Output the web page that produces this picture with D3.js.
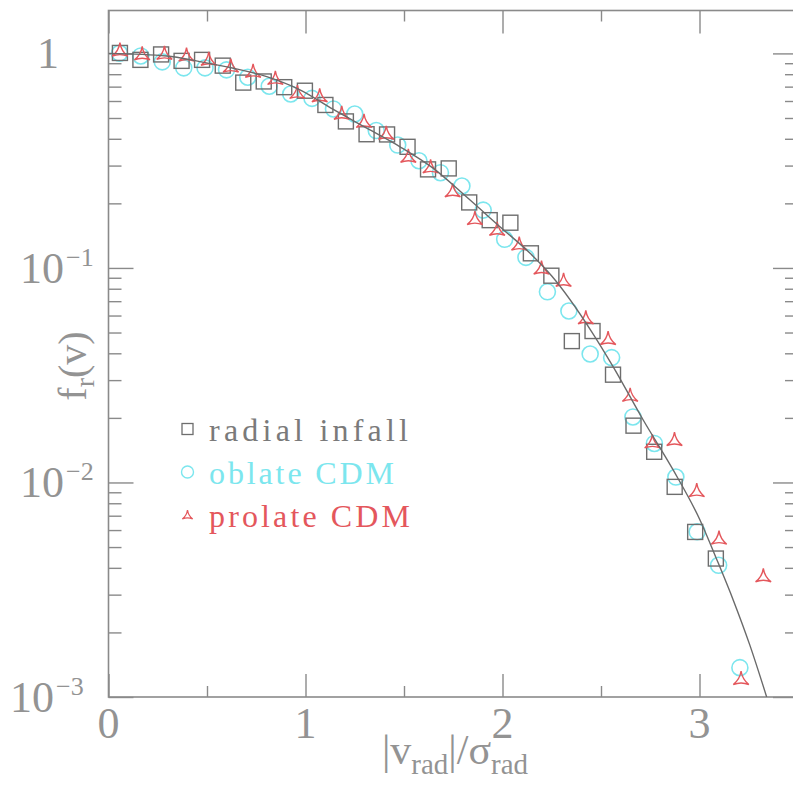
<!DOCTYPE html>
<html><head><meta charset="utf-8">
<script src="https://cdn.jsdelivr.net/npm/d3@7/dist/d3.min.js"></script>
<style>html,body{margin:0;padding:0;background:#fff;} svg{display:block;}</style>
</head><body><svg id="c" width="793" height="785"></svg>
<script>
// ---- data ----
const radialV = [0.058,0.162,0.267,0.371,0.475,0.580,0.684,0.788,0.892,0.997,1.101,1.205,1.310,1.414,1.518,1.622,1.727,1.831,1.935,2.040,2.144,2.248,2.352,2.457,2.561,2.665,2.770,2.874,2.978,3.083];
const radialF = [1.005,0.933,0.989,0.923,0.933,0.877,0.731,0.740,0.696,0.670,0.575,0.482,0.420,0.419,0.367,0.288,0.291,0.202,0.167,0.1625,0.117,0.0920,0.0456,0.0508,0.0318,0.0184,0.0139,0.00954,0.00588,0.00442];
const oblateV = [0.056,0.164,0.273,0.382,0.490,0.599,0.707,0.816,0.925,1.033,1.142,1.250,1.359,1.468,1.576,1.685,1.794,1.902,2.011,2.119,2.228,2.337,2.445,2.554,2.662,2.771,2.880,2.988,3.097,3.205];
const oblateF = [1.002,0.973,0.913,0.856,0.856,0.838,0.774,0.703,0.647,0.617,0.551,0.522,0.437,0.374,0.316,0.278,0.241,0.186,0.136,0.112,0.0774,0.0630,0.0397,0.0382,0.0202,0.0152,0.0106,0.00589,0.00411,0.00137];
const prolateV = [0.058,0.171,0.284,0.396,0.509,0.621,0.734,0.847,0.959,1.072,1.184,1.297,1.410,1.522,1.635,1.747,1.860,1.973,2.085,2.198,2.310,2.423,2.536,2.648,2.761,2.873,2.986,3.099,3.211,3.324];
const prolateF = [1.019,0.979,0.984,0.966,0.923,0.858,0.811,0.752,0.647,0.624,0.517,0.474,0.417,0.326,0.291,0.225,0.167,0.149,0.127,0.0983,0.0862,0.0576,0.0461,0.0251,0.0152,0.0156,0.00901,0.00541,0.00120,0.00361];
const modelV = [0,0.295,0.464,0.634,0.803,0.972,1.141,1.311,1.480,1.649,1.818,1.987,2.140,2.250,2.453,2.562,2.715,2.867,3.003,3.087,3.172,3.256,3.341];
const modelF = [1.0,0.973,0.916,0.853,0.779,0.676,0.548,0.448,0.367,0.291,0.214,0.1557,0.117,0.0917,0.0504,0.0346,0.0195,0.01141,0.00667,0.00439,0.00282,0.00174,0.001];
const legendLabels = ["radial infall","oblate CDM","prolate CDM"];
const xTickValues = [0,1,2,3];
const xTickLabels = ["0","1","2","3"];
const xMinorValues = [0.5,1.5,2.5];
const yTickValues = [0.001,0.01,0.1,1];
const yTickBase = ["10","10","10","1"];
const yTickExp = ["\u22123","\u22122","\u22121",""];

// ---- drawing ----
const svg = d3.select("#c");
const W0 = 108.5, W1 = 798, H0 = 10.5, H1 = 697;
const x = d3.scaleLinear().domain([0,3.5]).range([W0,W1]);
const y = d3.scaleLog().domain([1e-3, Math.pow(10,0.2)]).range([H1,H0]);
const axisCol = "#8a8a8a";
const txtCol = "#939393";
const serif = "'Liberation Serif','DejaVu Serif',serif";

const yMinor = [];
[-3,-2,-1].forEach(e => { for (let m=2;m<=9;m++) yMinor.push(m*Math.pow(10,e)); });

function styleAxis(g){
  g.select(".domain").remove();
  g.selectAll(".tick line").attr("stroke",axisCol).attr("stroke-width",1.4);
  g.selectAll(".tick text").remove();
}
svg.append("g").attr("transform",`translate(0,${H1})`).call(d3.axisBottom(x).tickValues(xTickValues).tickSize(-23).tickFormat("")).call(styleAxis);
svg.append("g").attr("transform",`translate(0,${H1})`).call(d3.axisBottom(x).tickValues(xMinorValues).tickSize(-11).tickFormat("")).call(styleAxis);
svg.append("g").attr("transform",`translate(0,${H0})`).call(d3.axisTop(x).tickValues(xTickValues).tickSize(-23).tickFormat("")).call(styleAxis);
svg.append("g").attr("transform",`translate(0,${H0})`).call(d3.axisTop(x).tickValues(xMinorValues).tickSize(-11).tickFormat("")).call(styleAxis);
svg.append("g").attr("transform",`translate(${W0},0)`).call(d3.axisLeft(y).tickValues(yTickValues).tickSize(-25).tickFormat("")).call(styleAxis);
svg.append("g").attr("transform",`translate(${W0},0)`).call(d3.axisLeft(y).tickValues(yMinor).tickSize(-13).tickFormat("")).call(styleAxis);
svg.append("g").attr("transform",`translate(${W1},0)`).call(d3.axisRight(y).tickValues(yTickValues).tickSize(-25).tickFormat("")).call(styleAxis);
svg.append("g").attr("transform",`translate(${W1},0)`).call(d3.axisRight(y).tickValues(yMinor).tickSize(-13).tickFormat("")).call(styleAxis);

svg.append("rect").attr("x",W0).attr("y",H0).attr("width",W1-W0).attr("height",H1-H0)
  .attr("fill","none").attr("stroke",axisCol).attr("stroke-width",1.6);

// tick labels
svg.append("g").selectAll("text").data(xTickValues).join("text")
  .attr("x",d=>x(d)).attr("y",H1+41).attr("text-anchor","middle")
  .attr("font-family",serif).attr("font-size",44).attr("fill",txtCol)
  .text((d,i)=>xTickLabels[i]);
const yLabelX = [10,20,20,48];
const yl = svg.append("g").selectAll("text").data(yTickValues).join("text")
  .attr("font-family",serif).attr("font-size",44).attr("fill",txtCol)
  .attr("y",d=>y(d)+15)
  .attr("x",(d,i)=>yLabelX[i])
  .attr("text-anchor",(d,i)=>yTickExp[i]==="" ? "middle" : "start");
yl.append("tspan").text((d,i)=>yTickBase[i]);
yl.append("tspan").attr("font-size",26).attr("dy",-17).attr("dx",2).text((d,i)=>yTickExp[i]);

// axis titles
const xt = svg.append("text").attr("x",455).attr("y",764).attr("text-anchor","middle")
  .attr("font-family",serif).attr("font-size",42).attr("fill",txtCol);
xt.append("tspan").text("|v");
xt.append("tspan").attr("font-size",29).attr("dy",10).text("rad");
xt.append("tspan").attr("dy",-10).text("|/\u03C3");
xt.append("tspan").attr("font-size",29).attr("dy",10).text("rad");

const yt = svg.append("text").attr("transform","translate(86,366) rotate(-90)").attr("text-anchor","middle")
  .attr("font-family",serif).attr("font-size",40).attr("fill",txtCol);
yt.append("tspan").text("f");
yt.append("tspan").attr("font-size",28).attr("dy",8).text("r");
yt.append("tspan").attr("dy",-8).text("(v)");

// clip
svg.append("clipPath").attr("id","pa").append("rect").attr("x",W0).attr("y",H0).attr("width",W1-W0).attr("height",H1-H0);
const plot = svg.append("g").attr("clip-path","url(#pa)");

const cyan = "#7ce6ee", red = "#e4575c", gray = "#6e6e6e";

function triPath(r){
  const p = [[0,-r],[r*Math.cos(Math.PI/6), r/2],[-r*Math.cos(Math.PI/6), r/2]];
  const c = (a,b)=>[(a[0]+b[0])/2*0.3,(a[1]+b[1])/2*0.3];
  let s = `M${p[0][0]},${p[0][1]}`;
  for (let i=0;i<3;i++){ const a=p[i], b=p[(i+1)%3], q=c(a,b); s += `Q${q[0]},${q[1]} ${b[0]},${b[1]}`; }
  return s + "Z";
}

plot.append("g").selectAll("circle").data(oblateV).join("circle")
  .attr("cx",d=>x(d)).attr("cy",(d,i)=>y(oblateF[i])).attr("r",8)
  .attr("fill","none").attr("stroke",cyan).attr("stroke-width",1.6);
plot.append("g").selectAll("rect").data(radialV).join("rect")
  .attr("x",d=>x(d)-7.5).attr("y",(d,i)=>y(radialF[i])-7.5).attr("width",15).attr("height",15)
  .attr("fill","none").attr("stroke",gray).attr("stroke-width",1.4);
plot.append("g").selectAll("path").data(prolateV).join("path")
  .attr("transform",(d,i)=>`translate(${x(d)},${y(prolateF[i])})`).attr("d",triPath(9))
  .attr("fill","none").attr("stroke",red).attr("stroke-width",1.4);

const line = d3.line().x(d=>x(d[0])).y(d=>y(d[1])).curve(d3.curveMonotoneX);
plot.append("path").datum(modelV.map((v,i)=>[v,modelF[i]])).attr("d",line)
  .attr("fill","none").attr("stroke","#6a6a6a").attr("stroke-width",1.4);

// legend
const lg = svg.append("g");
const lx = 187.5, ly = [429, 472, 515], tx = 209;
lg.append("rect").attr("x",lx-5.5).attr("y",ly[0]-5.5).attr("width",11).attr("height",11).attr("fill","none").attr("stroke",gray).attr("stroke-width",1.3);
lg.append("circle").attr("cx",lx).attr("cy",ly[1]).attr("r",6).attr("fill","none").attr("stroke",cyan).attr("stroke-width",1.4);
lg.append("path").attr("transform",`translate(${lx},${ly[2]+1})`).attr("d",triPath(6)).attr("fill","none").attr("stroke",red).attr("stroke-width",1.3);
const legCols = ["#7a7a7a", cyan, red];
const legLens = [199,185,201];
lg.selectAll("text").data(legendLabels).join("text")
  .attr("x",tx).attr("y",(d,i)=>ly[i]+12)
  .attr("font-family",serif).attr("font-size",32).attr("fill",(d,i)=>legCols[i])
  .attr("textLength",(d,i)=>legLens[i]).attr("lengthAdjust","spacing")
  .text(d=>d);
</script></body></html>
